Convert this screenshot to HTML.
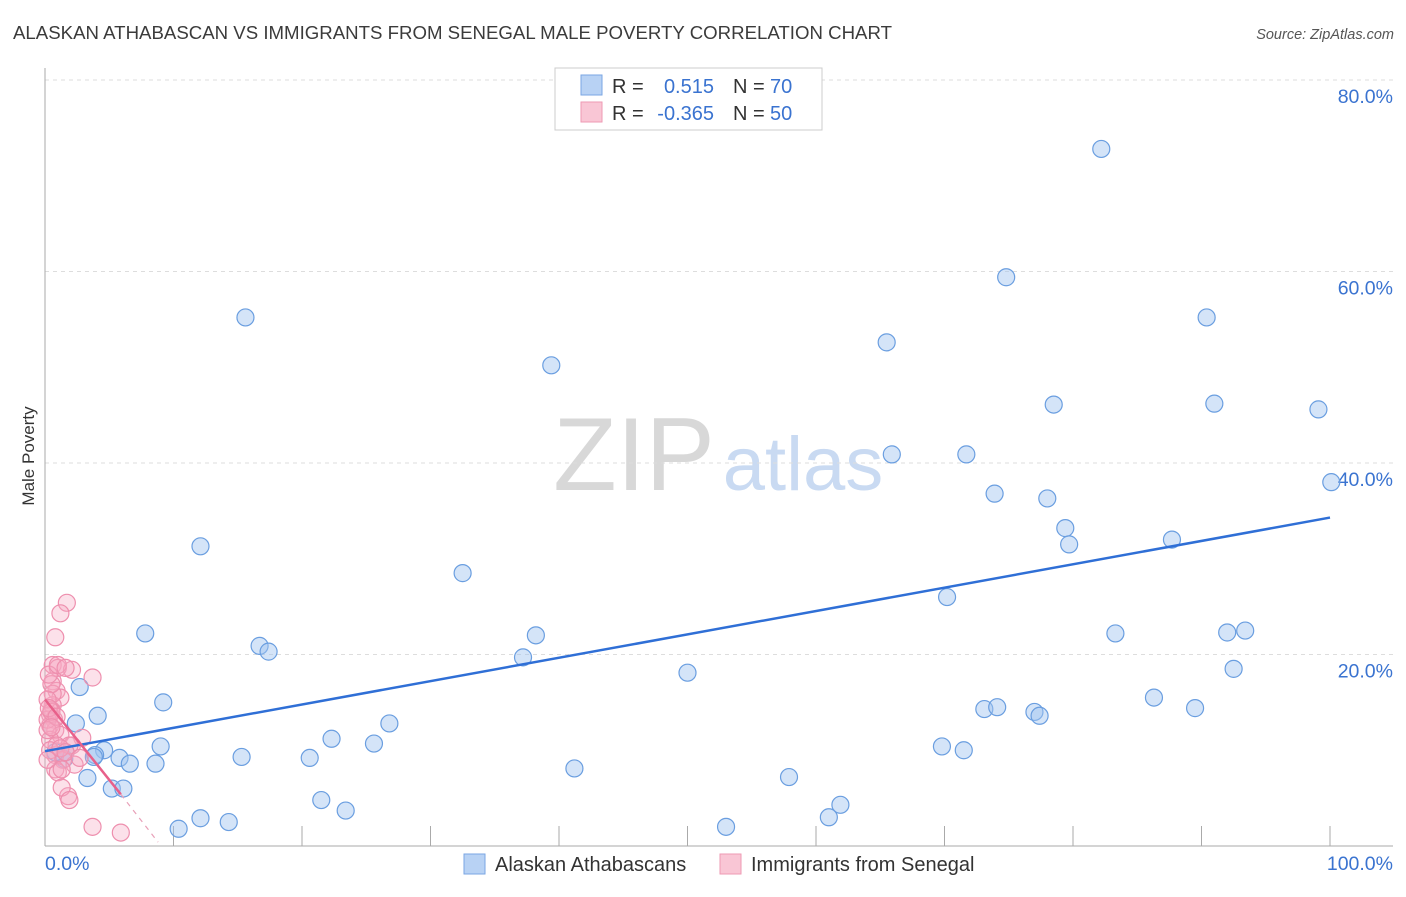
<!DOCTYPE html>
<html><head><meta charset="utf-8"><style>
body{margin:0;background:#fff;font-family:"Liberation Sans",sans-serif;}
svg text{font-family:"Liberation Sans",sans-serif;}
</style></head><body>
<svg width="1406" height="892" xmlns="http://www.w3.org/2000/svg">
<text x="13" y="39" font-size="18" fill="#3b3b3b" textLength="879" lengthAdjust="spacingAndGlyphs">ALASKAN ATHABASCAN VS IMMIGRANTS FROM SENEGAL MALE POVERTY CORRELATION CHART</text>
<text x="1394" y="39" font-size="14.5" fill="#555" text-anchor="end" font-style="italic">Source: ZipAtlas.com</text>
<g>
<text x="634" y="490" font-size="104" fill="#d8d8d8" font-family="Liberation Serif" text-anchor="middle">ZIP</text>
<text x="803" y="490" font-size="76" fill="#c9daf2" text-anchor="middle">atlas</text>
</g>
<g id="grid"></g>
<g id="axes"></g>
<text transform="translate(34,456) rotate(-90)" font-size="17" fill="#333" text-anchor="middle">Male Poverty</text>
<g id="marks"></g>
<g>
<rect x="555" y="68" width="267" height="62" fill="#fff" stroke="#ccc"/>
<rect x="581" y="75" width="21" height="20" fill="#b8d2f4" stroke="#7aa6e3"/>
<rect x="581" y="102" width="21" height="20" fill="#f9c6d5" stroke="#ee9ab3"/>
<text x="612" y="93" font-size="20" fill="#333">R =</text>
<text x="714" y="93" font-size="20" fill="#3a73d0" text-anchor="end">0.515</text>
<text x="733" y="93" font-size="20" fill="#333">N =</text>
<text x="770" y="93" font-size="20" fill="#3a73d0">70</text>
<text x="612" y="120" font-size="20" fill="#333">R =</text>
<text x="714" y="120" font-size="20" fill="#3a73d0" text-anchor="end">-0.365</text>
<text x="733" y="120" font-size="20" fill="#333">N =</text>
<text x="770" y="120" font-size="20" fill="#3a73d0">50</text>
</g>
<g>
<rect x="464" y="854" width="21" height="20" fill="#b8d2f4" stroke="#7aa6e3"/>
<text x="495" y="871" font-size="20" fill="#333">Alaskan Athabascans</text>
<rect x="720" y="854" width="21" height="20" fill="#f9c6d5" stroke="#ee9ab3"/>
<text x="751" y="871" font-size="20" fill="#333">Immigrants from Senegal</text>
</g>
</svg>
<script>
const yTicks=[20,40,60,80];
const yTickLabels=["20.0%","40.0%","60.0%","80.0%"];
const xTicks=[10,20,30,40,50,60,70,80,90,100];
const blueX=[15.6,39.4,65.5,74.8,82.2,90.4,78.5,91.0,99.1,100.1,65.9,71.7,73.9,78.0,79.4,79.7,87.7,12.1,32.5,70.2,7.8,38.2,83.3,92.0,93.4,16.7,17.4,37.2,50.0,92.5,2.7,9.2,86.3,4.1,73.1,74.1,89.5,77.0,77.4,2.4,26.8,22.3,25.6,9.0,4.6,69.8,71.5,3.9,5.8,15.3,20.6,8.6,6.6,1.5,41.2,3.3,57.9,5.2,6.1,21.5,23.4,61.9,61.0,12.1,14.3,10.4,53.0,1.6,0.8,3.8];
const blueY=[55.2,50.2,52.6,59.4,72.8,55.2,46.1,46.2,45.6,38.0,40.9,40.9,36.8,36.3,33.2,31.5,32.0,31.3,28.5,26.0,22.2,22.0,22.2,22.3,22.5,20.9,20.3,19.7,18.1,18.5,16.6,15.0,15.5,13.6,14.3,14.5,14.4,14.0,13.6,12.8,12.8,11.2,10.7,10.4,10.0,10.4,10.0,9.5,9.2,9.3,9.2,8.6,8.6,9.1,8.1,7.1,7.2,6.0,6.0,4.8,3.7,4.3,3.0,2.9,2.5,1.8,2.0,9.8,9.8,9.3];
const pinkX=[1.7,1.2,0.8,0.6,1.0,2.1,3.7,0.6,0.9,1.2,0.6,0.5,0.4,0.7,0.4,0.8,1.2,0.4,0.9,2.9,2.1,0.8,1.4,2.3,0.8,1.0,1.3,1.8,1.3,1.9,3.7,5.9,0.4,0.2,0.6,0.5,0.3,0.2,0.2,0.2,1.0,1.6,1.9,1.2,1.6,2.7,0.5,0.3,0.9,0.5];
const pinkY=[25.4,24.3,21.8,18.9,18.6,18.4,17.6,17.2,16.2,15.5,14.7,14.2,13.7,13.2,12.6,12.1,11.6,11.1,10.5,11.3,10.5,9.5,9.0,8.5,8.0,7.7,8.0,5.2,6.1,4.8,2.0,1.4,10.0,9.0,15.9,16.9,17.9,15.3,13.2,12.1,18.9,18.6,10.5,10.2,9.8,9.2,14.0,14.4,13.5,12.4];
const blueFit=[0,100,9.9,34.3];
const pinkFit=[0,5.9,15.3,5.4,8.8,0.4];
const X=v=>45+v*12.85, Y=v=>846-v*9.575;
const ns="http://www.w3.org/2000/svg";
function mk(t,a,p){const e=document.createElementNS(ns,t);for(const k in a)e.setAttribute(k,a[k]);p.appendChild(e);return e;}
const grid=document.getElementById('grid'),axes=document.getElementById('axes'),marks=document.getElementById('marks');
yTicks.forEach((v,i)=>{
 const l=mk('line',{x1:45,x2:1393,y1:Y(v),y2:Y(v),stroke:'#ddd','stroke-dasharray':'4,4'},grid);
 
 
 const t=mk('text',{x:1393,y:Y(v)+23,'font-size':19.5,fill:'#3a73d0','text-anchor':'end'},axes);
 t.textContent=yTickLabels[i];
 
 
});
const a1=mk('line',{x1:45,x2:45,y1:68,y2:846,stroke:'#aaa'},axes);


const a2=mk('line',{x1:45,x2:1393,y1:846,y2:846,stroke:'#aaa'},axes);


xTicks.forEach(v=>{
 const l=mk('line',{x1:X(v),x2:X(v),y1:826,y2:846,stroke:'#aaa'},axes);
 
 
});
const xl=mk('text',{x:45,y:870,'font-size':19.5,fill:'#3a73d0'},axes);xl.textContent='0.0%';


const xr=mk('text',{x:1393,y:870,'font-size':19.5,fill:'#3a73d0','text-anchor':'end'},axes);xr.textContent='100.0%';


blueX.forEach((v,i)=>{
 const c=mk('circle',{cx:X(v),cy:Y(blueY[i]),r:8.5,fill:'rgba(160,196,240,0.45)',stroke:'#6a9ee0','stroke-width':1.2},marks);
 
 
});
pinkX.forEach((v,i)=>{
 const c=mk('circle',{cx:X(v),cy:Y(pinkY[i]),r:8.5,fill:'rgba(246,170,195,0.35)',stroke:'#ee8fae','stroke-width':1.2},marks);
 
 
});
const bl=mk('line',{x1:X(blueFit[0]),x2:X(blueFit[1]),y1:Y(blueFit[2]),y2:Y(blueFit[3]),stroke:'#2f6fd6','stroke-width':2.5},marks);


const pl=mk('line',{x1:X(pinkFit[0]),x2:X(pinkFit[1]),y1:Y(pinkFit[2]),y2:Y(pinkFit[3]),stroke:'#e8608a','stroke-width':2.5},marks);


const pd=mk('line',{x1:X(pinkFit[1]),x2:X(pinkFit[4]),y1:Y(pinkFit[3]),y2:Y(pinkFit[5]),stroke:'#e8a0b8','stroke-width':1.2,'stroke-dasharray':'5,5'},marks);


</script>
</body></html>
